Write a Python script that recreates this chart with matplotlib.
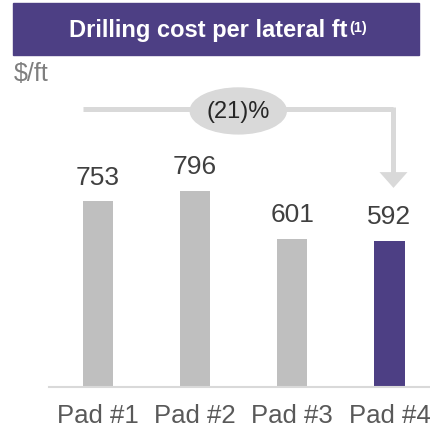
import matplotlib
matplotlib.use("Agg")
import matplotlib.pyplot as plt
from matplotlib.patches import Rectangle, Ellipse

# --- data ---
pads = ["Pad #1", "Pad #2", "Pad #3", "Pad #4"]
cost = [753, 796, 601, 592]
highlight = "Pad #4"

PURPLE = "#4D3F84"
GRAY_BAR = "#BFBFBF"
GRAY_LINE = "#D9D9D9"

plt.rcParams["font.family"] = ["Liberation Sans", "DejaVu Sans"]

W, H = 431, 433
fig = plt.figure(figsize=(W / 100, H / 100), dpi=100)

# title band
fig.patches.append(Rectangle((13 / W, 1 - 55 / H), 406 / W, 52 / H,
                             transform=fig.transFigure, color=PURPLE, zorder=0))
main = fig.text(0, 1 - 37 / H, "Drilling cost per lateral ft", color="white",
                fontsize=17, fontweight="bold", va="baseline", ha="left")
sup = fig.text(0, 1 - 32 / H, "(1)", color="white", fontsize=10.5,
               fontweight="bold", va="baseline", ha="left")
fig.canvas.draw()
r = fig.canvas.get_renderer()
w1 = main.get_window_extent(r).width
w2 = sup.get_window_extent(r).width
x0 = 218 - (w1 + w2 + 1) / 2
main.set_x(x0 / W)
sup.set_x((x0 + w1 + 1) / W)

fig.text(14 / W, 1 - 81 / H, "$/ft", color="#7F7F7F", fontsize=18,
         va="baseline", ha="left")

# axes: left edge at px 49, baseline at px 387
ax = fig.add_axes([49 / W, (H - 387) / H, (W - 49) / W, (387 - 60) / H])
x = list(range(len(pads)))
colors = [PURPLE if p == highlight else GRAY_BAR for p in pads]
ax.bar(x, cost, width=0.31, color=colors, zorder=2)
ax.set_xlim(-0.504, 3.427)
ax.set_ylim(0, 327 / 0.2467)

for xi, v in zip(x, cost):
    ax.text(xi, v + 67, f"{v}", ha="center", va="baseline", fontsize=19,
            color="#404040")

ax.set_xticks(x)
ax.set_xticklabels(pads, fontsize=18.5, color="#595959")
ax.tick_params(axis="x", length=0, pad=12)
ax.set_yticks([])
for s in ["top", "right", "left"]:
    ax.spines[s].set_visible(False)
ax.spines["bottom"].set_color(GRAY_LINE)
ax.spines["bottom"].set_linewidth(1.5)

# change bracket from first to last pad
pct = round((cost[-1] - cost[0]) / cost[0] * 100)
y_br = 1125
x_left = x[0] - 0.154
x_right = x[-1] + 0.041
ax.plot([x_left, x_right], [y_br, y_br], color=GRAY_LINE,
        lw=3.6, solid_capstyle="butt", zorder=1)
ax.plot([x_right, x_right], [y_br + 10, 868], color=GRAY_LINE,
        lw=3.6, solid_capstyle="butt", zorder=1)
ax.fill([x_right - 0.144, x_right + 0.144, x_right],
        [871, 871, 807], color=GRAY_LINE, lw=0, zorder=1)
x_mid = (x_left + x_right) / 2
ax.add_patch(Ellipse((x_mid, 1119), 0.988, 186, color=GRAY_LINE, zorder=3,
                     clip_on=False))
ax.text(x_mid, 1091, f"({abs(pct)})%", ha="center", va="baseline",
        fontsize=17, color="#262626", zorder=4)

fig.savefig("out.png", dpi=100)
